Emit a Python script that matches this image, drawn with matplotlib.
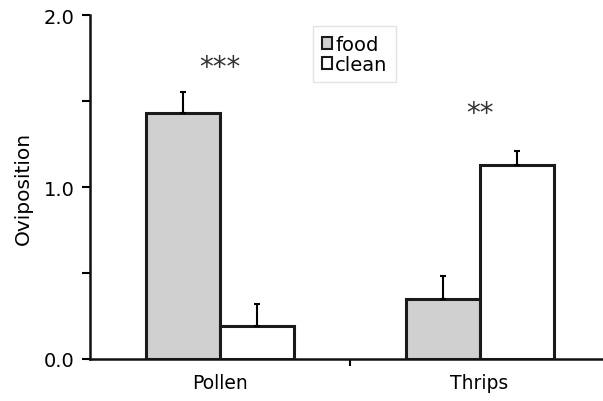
import numpy as np
import matplotlib.pyplot as plt
from matplotlib.ticker import MultipleLocator

groups = ["Pollen", "Thrips"]
food = [1.43, 0.35]
food_err = [0.12, 0.13]
clean = [0.19, 1.13]
clean_err = [0.13, 0.08]
stars = ["***", "**"]
star_y = [1.70, 1.43]

fig = plt.figure(figsize=(6.03, 4.02), dpi=100)
ax = fig.add_axes([0.149, 0.1045, 0.851, 0.8555])

x = np.array([0.5, 1.5])
w = 0.285
err_kw = dict(ecolor="black", elinewidth=1.5, capsize=2.5, capthick=1.5)
ax.bar(x - w / 2, food, w, yerr=[[0, 0], food_err], color="#d0d0d0",
       edgecolor="#1a1a1a", linewidth=2.2, label="food", error_kw=err_kw, zorder=3)
ax.bar(x + w / 2, clean, w, yerr=[[0, 0], clean_err], color="white",
       edgecolor="#1a1a1a", linewidth=2.2, label="clean", error_kw=err_kw, zorder=3)

for xi, s, sy in zip(x, stars, star_y):
    ax.text(xi, sy, s, ha="center", va="center", fontsize=20, color="#333333")

ax.set_xlim(0, 1.975)
ax.set_ylim(0, 2.0)
ax.set_xticks([1.0])
ax.set_xticklabels([""])
ax.set_xticks(x, minor=True)
ax.set_xticklabels(groups, minor=True)
ax.tick_params(axis="x", which="minor", length=0, pad=10, labelsize=13.5)
ax.tick_params(axis="x", which="major", length=5, width=1.5, direction="out")

ax.set_yticks([0, 1, 2])
ax.set_yticklabels(["0.0", "1.0", "2.0"])
ax.yaxis.set_minor_locator(MultipleLocator(0.5))
ax.tick_params(axis="y", which="both", length=6, width=1.5, labelsize=14, pad=5)
ax.set_ylabel("Oviposition", fontsize=14.5, labelpad=8)

for sp in ["top", "right"]:
    ax.spines[sp].set_visible(False)
for sp in ["left", "bottom"]:
    ax.spines[sp].set_linewidth(1.8)
    ax.spines[sp].set_color("#111111")

leg = ax.legend(loc="upper left", bbox_to_anchor=(313 / 603, 1 - 27 / 402),
                bbox_transform=fig.transFigure, fontsize=14, frameon=True,
                fancybox=False, handlelength=0.55, handleheight=0.55,
                handletextpad=0.15, borderpad=0.45, labelspacing=0.05,
                borderaxespad=0)
leg.get_frame().set_edgecolor("#dddddd")
leg.get_frame().set_linewidth(1.0)
for h in leg.legend_handles:
    h.set_linewidth(1.5)

fig.savefig("out.png", dpi=100)
